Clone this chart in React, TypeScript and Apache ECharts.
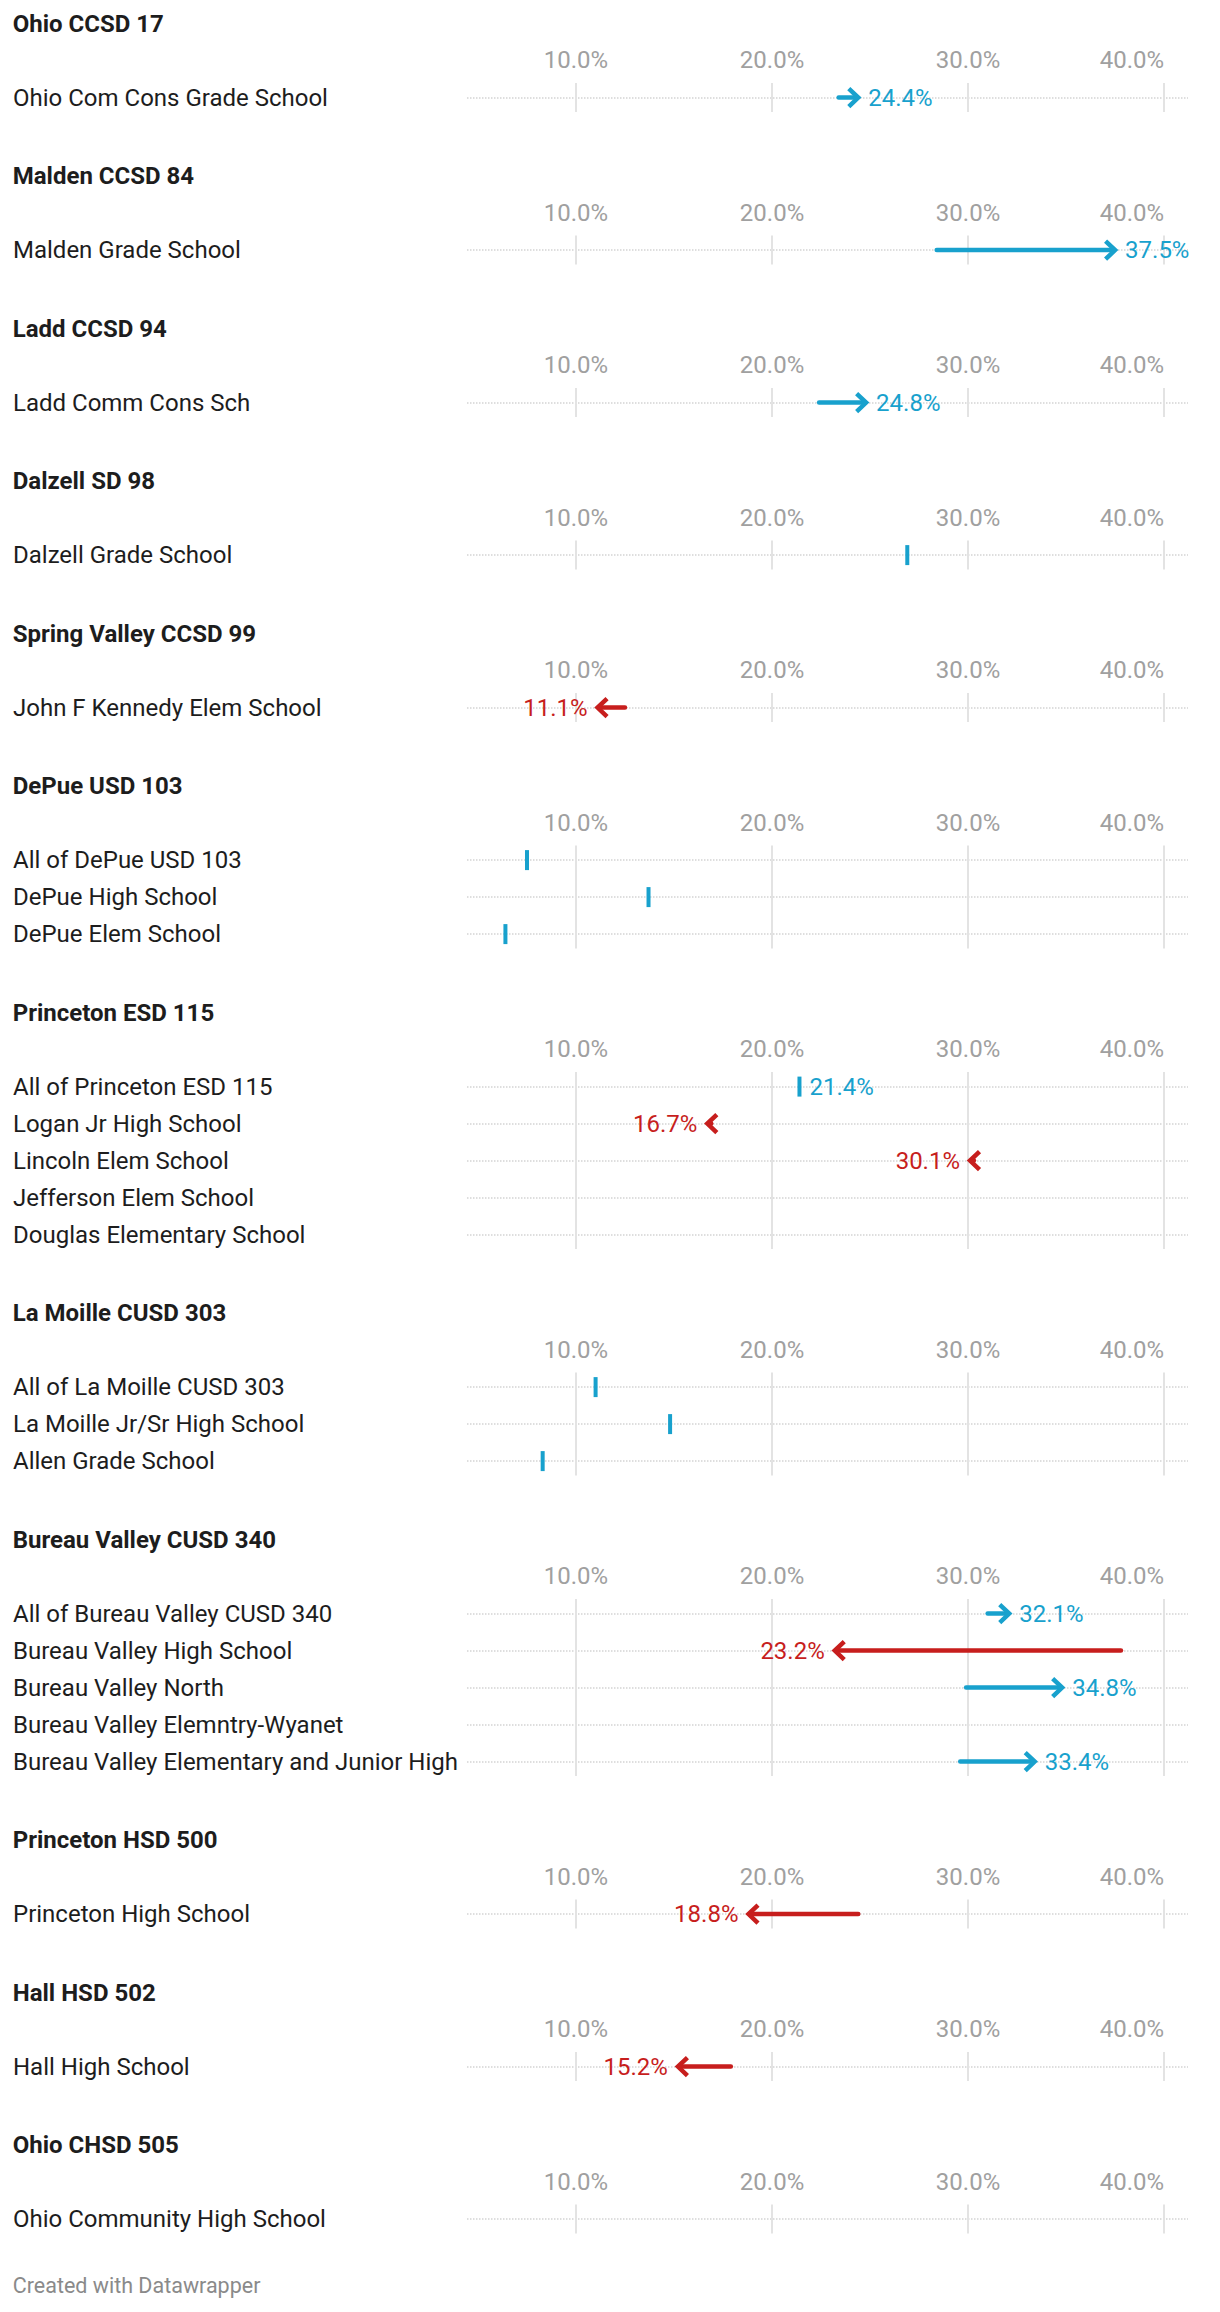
import React, { useEffect, useRef } from "react";
import * as echarts from "echarts";

// ---------- data ----------
const groupNames = [
  "Ohio CCSD 17",
  "Malden CCSD 84",
  "Ladd CCSD 94",
  "Dalzell SD 98",
  "Spring Valley CCSD 99",
  "DePue USD 103",
  "Princeton ESD 115",
  "La Moille CUSD 303",
  "Bureau Valley CUSD 340",
  "Princeton HSD 500",
  "Hall HSD 502",
  "Ohio CHSD 505",
];

const schoolNames = [
  "Ohio Com Cons Grade School",
  "Malden Grade School",
  "Ladd Comm Cons Sch",
  "Dalzell Grade School",
  "John F Kennedy Elem School",
  "All of DePue USD 103",
  "DePue High School",
  "DePue Elem School",
  "All of Princeton ESD 115",
  "Logan Jr High School",
  "Lincoln Elem School",
  "Jefferson Elem School",
  "Douglas Elementary School",
  "All of La Moille CUSD 303",
  "La Moille Jr/Sr High School",
  "Allen Grade School",
  "All of Bureau Valley CUSD 340",
  "Bureau Valley High School",
  "Bureau Valley North",
  "Bureau Valley Elemntry-Wyanet",
  "Bureau Valley Elementary and Junior High",
  "Princeton High School",
  "Hall High School",
  "Ohio Community High School",
];

const schoolGroup = [0, 1, 2, 3, 4, 5, 5, 5, 6, 6, 6, 6, 6, 7, 7, 7, 8, 8, 8, 8, 8, 9, 10, 11];

const startRates: (number | null)[] = [
  23.4, 28.4, 22.4, 26.9, 12.5, 7.5, 13.7, 6.4, 21.4, 16.9, 30.3, null, null,
  11.0, 14.8, 8.3, 31.0, 37.8, 29.9, null, 29.6, 24.4, 17.9, null,
];

const endRates: (number | null)[] = [
  24.4, 37.5, 24.8, 26.9, 11.1, 7.5, 13.7, 6.4, 21.4, 16.7, 30.1, null, null,
  11.0, 14.8, 8.3, 32.1, 23.2, 34.8, null, 33.4, 18.8, 15.2, null,
];

const showRateLabel = [
  true, true, true, false, true, false, false, false, true, true, true, false, false,
  false, false, false, true, true, true, false, true, true, true, false,
];

const tickValues = [10, 20, 30, 40];
const axisMin = 4.44;
const axisMax = 41.22;

// ---------- styles ----------
const BLUE = "#18a1cd";
const RED = "#c71e1d";
const FONT = "Roboto, 'Noto Sans', sans-serif";
const TEXT = "#1d1d1d";
const GREY_LABEL = "#a0a0a0";

export default function App() {
  const ref = useRef<HTMLDivElement>(null);

  useEffect(() => {
    const chart = echarts.init(ref.current as HTMLDivElement, null, { renderer: "svg" });

    const ROW = 37;
    const PAD = 14.5;
    const STEP = 152.5;
    let t = 23.6;

    const grids: any[] = [];
    const xAxes: any[] = [];
    const yAxes: any[] = [];
    const series: any[] = [];
    const graphics: any[] = [];

    groupNames.forEach((gName, gi) => {
      const idx = schoolNames.map((_, i) => i).filter((i) => schoolGroup[i] === gi);
      const n = idx.length;
      const names = idx.map((i) => schoolNames[i]);
      const firstRow = t + 74;
      const rowIdx = names.map((_, k) => k);

      graphics.push({
        type: "text",
        x: 12.7,
        y: t,
        style: {
          text: gName,
          fill: TEXT,
          fontSize: 24,
          fontWeight: "bold",
          fontFamily: FONT,
          verticalAlign: "middle",
        },
      });

      grids.push({
        left: 467,
        right: 32,
        top: firstRow - PAD,
        height: (n - 1) * ROW + 2 * PAD,
      });

      xAxes.push({
        gridIndex: gi,
        type: "value",
        position: "top",
        min: axisMin,
        max: axisMax,
        axisLine: { show: false },
        axisTick: { show: false, customValues: tickValues },
        axisLabel: {
          customValues: tickValues,
          formatter: (v: number) => v.toFixed(1) + "%",
          color: GREY_LABEL,
          fontSize: 24,
          fontFamily: FONT,
          margin: 11,
          alignMaxLabel: "right",
        },
        splitLine: { show: true, lineStyle: { color: "#e3e3e3", width: 2 } },
      });

      yAxes.push({
        gridIndex: gi,
        type: "value",
        inverse: true,
        min: -PAD / ROW,
        max: n - 1 + PAD / ROW,
        axisLine: { show: false },
        axisTick: { show: false, customValues: rowIdx },
        axisLabel: {
          customValues: rowIdx,
          formatter: (v: number) => names[Math.round(v)] ?? "",
          align: "left",
          margin: 454,
          color: TEXT,
          fontSize: 24,
          fontFamily: FONT,
        },
        splitLine: {
          show: true,
          lineStyle: { color: "#d4d4d4", width: 1.5, type: [1.5, 1.5] },
        },
      });

      const data: any[] = [];
      idx.forEach((i, k) => {
        const s = startRates[i];
        const e = endRates[i];
        if (s === null || e === null) return;
        data.push([s, e, k, showRateLabel[i] ? 1 : 0]);
      });

      series.push({
        type: "custom",
        xAxisIndex: gi,
        yAxisIndex: gi,
        clip: false,
        data,
        renderItem: (params: any, api: any) => {
          const s = api.value(0);
          const e = api.value(1);
          const r = api.value(2);
          const lab = api.value(3);
          const p0 = api.coord([s, r]);
          const p1 = api.coord([e, r]);
          const up = e >= s;
          const color = up ? BLUE : RED;
          const y = p1[1];
          const children: any[] = [];
          const labelText = e.toFixed(1) + "%";
          if (s === e) {
            children.push({
              type: "line",
              shape: { x1: p1[0], y1: y - 10, x2: p1[0], y2: y + 10 },
              style: { stroke: color, lineWidth: 4 },
            });
            if (lab) {
              children.push({
                type: "text",
                x: p1[0] + 10,
                y,
                style: {
                  text: labelText,
                  fill: color,
                  fontSize: 24,
                  fontFamily: FONT,
                  align: "left",
                  verticalAlign: "middle",
                },
              });
            }
          } else {
            const dir = up ? 1 : -1;
            children.push({
              type: "line",
              shape: { x1: p0[0], y1: y, x2: p1[0] - dir * 2, y2: y },
              style: { stroke: color, lineWidth: 4.5, lineCap: "round" },
            });
            children.push({
              type: "polyline",
              shape: {
                points: [
                  [p1[0] - dir * 9.5, y - 9],
                  [p1[0], y],
                  [p1[0] - dir * 9.5, y + 9],
                ],
              },
              style: { stroke: color, lineWidth: 4.5, fill: "none", lineJoin: "miter" },
            });
            if (lab) {
              children.push({
                type: "text",
                x: p1[0] + dir * 10,
                y,
                style: {
                  text: labelText,
                  fill: color,
                  fontSize: 24,
                  fontFamily: FONT,
                  align: up ? "left" : "right",
                  verticalAlign: "middle",
                },
              });
            }
          }
          return { type: "group", children };
        },
      });

      t += STEP + (n - 1) * ROW;
    });

    graphics.push({
      type: "text",
      x: 12.7,
      y: 2285.6,
      style: {
        text: "Created with Datawrapper",
        fill: "#8a8a8a",
        fontSize: 21.5,
        fontFamily: FONT,
        verticalAlign: "middle",
      },
    });

    chart.setOption({
      animation: false,
      backgroundColor: "#ffffff",
      grid: grids,
      xAxis: xAxes,
      yAxis: yAxes,
      series,
      graphic: graphics,
    });

    return () => {
      chart.dispose();
    };
  }, []);

  return (
    <div
      ref={ref}
      style={{ position: "absolute", left: 0, top: 0, width: 1220, height: 2312, background: "#fff" }}
    />
  );
}
